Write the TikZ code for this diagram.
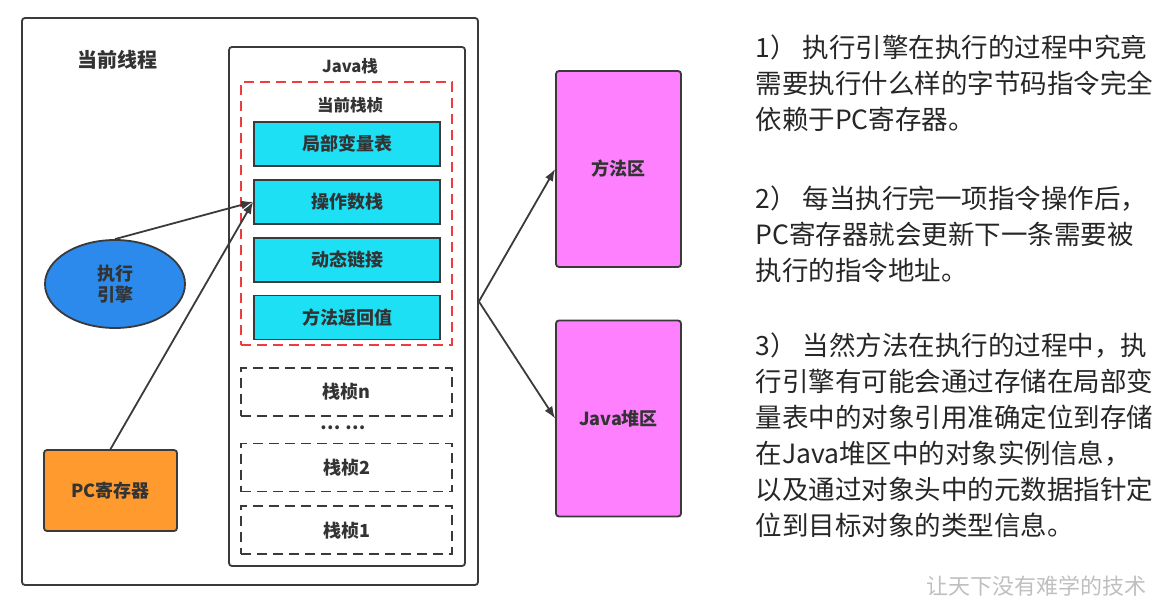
\documentclass[tikz,border=0pt]{standalone}
\usepackage{fontspec}
\setmainfont{Noto Sans CJK SC}
\usetikzlibrary{arrows.meta,positioning,shapes.geometric}

\definecolor{linegray}{HTML}{3A3A3A}
\definecolor{textgray}{HTML}{333333}
\definecolor{cellcyan}{HTML}{1EE0F5}
\definecolor{areapink}{HTML}{FF80FF}
\definecolor{engblue}{HTML}{2B8AEB}
\definecolor{pcorange}{HTML}{FF9A2E}
\definecolor{framered}{HTML}{F03C3C}

\begin{document}
\begin{tikzpicture}[x=1pt,y=-1pt,>={Latex[length=12pt,width=9pt]},
  lbl/.style={text=textgray,font=\bfseries\fontsize{18}{21}\selectfont},
  box/.style={draw=linegray,line width=1.8pt,rounded corners=3pt},
  cell/.style={lbl,draw=linegray,line width=1.8pt,fill=cellcyan,minimum width=186pt,minimum height=44pt},
  oldframe/.style={lbl,draw=linegray,line width=1.8pt,dash pattern=on 10pt off 6pt,minimum width=211pt,minimum height=48pt},
  area/.style={lbl,box,fill=areapink,minimum width=125pt,minimum height=196pt},
  link/.style={->,draw=linegray,line width=1.8pt},
  note/.style={anchor=base west,align=left,text=black!85,font=\fontsize{26.5}{36}\selectfont}]
  \useasboundingbox (0,0) rectangle (1175,604);
  % thread and its stack
  \node[box,minimum width=456pt,minimum height=567pt] (thread) at (250,301.5) {};
  \node[lbl,font=\bfseries\fontsize{20}{22}\selectfont] (threadtitle) at (117,60) {当前线程};
  \node[box,minimum width=236pt,minimum height=519pt] (stack) at (347,306.5) {};
  \node[lbl,font=\bfseries\fontsize{16.5}{19}\selectfont] (stacktitle) at (350,66) {Java栈};
  \node[draw=framered,line width=1.8pt,dash pattern=on 10pt off 6pt,
    minimum width=211pt,minimum height=263pt] (curframe) at (346.5,213.5) {};
  \node[lbl,font=\bfseries\fontsize{16.5}{19}\selectfont] (frametitle) at (350,105) {当前栈桢};
  \node[cell] (locals) at (347,144) {局部变量表};
  \node[cell,below=12pt of locals] (opstack) {操作数栈};
  \node[cell,below=12pt of opstack] (dynlink) {动态链接};
  \node[cell,below=12pt of dynlink] (retaddr) {方法返回值};
  \node[oldframe] (framen) at (346.5,392) {栈桢n};
  \node[lbl] (dots) at (343,428) {… …};
  \node[oldframe] (frame2) at (346.5,467.5) {栈桢2};
  \node[oldframe,below=13pt of frame2] (frame1) {栈桢1};
  % engine and pc register
  \node[lbl,ellipse,draw=linegray,line width=1.8pt,fill=engblue,align=center,
    minimum width=140pt,minimum height=88pt] (engine) at (115,284) {执行\\引擎};
  \node[lbl,box,fill=pcorange,minimum width=133pt,minimum height=81pt] (pc) at (110.5,490.5) {PC寄存器};
  % shared areas
  \node[area] (method) at (618.5,169) {方法区};
  \node[area] (heap) at (618.5,418.5) {Java堆区};
  \coordinate (split) at (thread.east);
  \draw[link] (engine.north) -- (opstack.west);
  \draw[link] (pc.north) -- (opstack.west);
  \draw[link] (split) -- (method.west);
  \draw[link] (split) -- (heap.west);
  % notes (anchored on the last line)
  \node[note] (note1) at (752,130) {1）\hspace{6pt}执行引擎在执行的过程中究竟\\需要执行什么样的字节码指令完全\\依赖于PC寄存器。};
  \node[note] (note2) at (752,280) {2）\hspace{6pt}每当执行完一项指令操作后，\\PC寄存器就会更新下一条需要被\\执行的指令地址。};
  \node[note] (note3) at (752,535) {3）\hspace{6pt}当然方法在执行的过程中，执\\行引擎有可能会通过存储在局部变\\量表中的对象引用准确定位到存储\\在Java堆区中的对象实例信息，\\以及通过对象头中的元数据指针定\\位到目标对象的类型信息。};
  \node[text=black!25,font=\fontsize{22}{24}\selectfont] (mark) at (1036,586) {让天下没有难学的技术};
\end{tikzpicture}
\end{document}
